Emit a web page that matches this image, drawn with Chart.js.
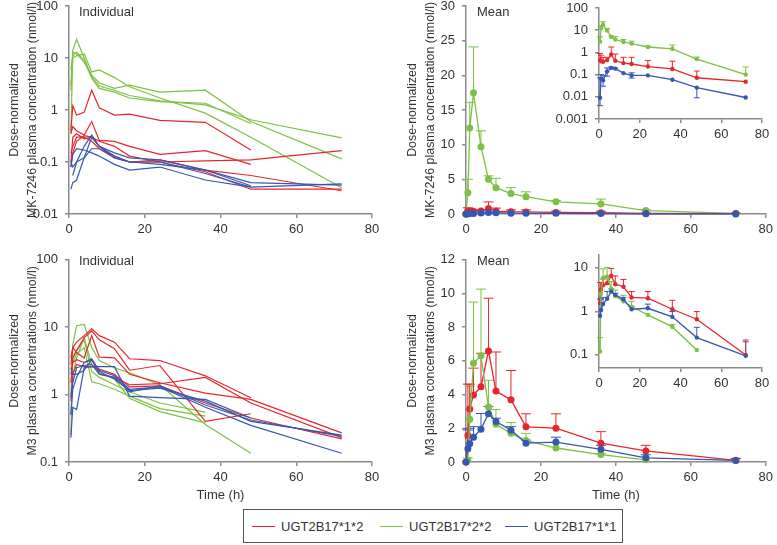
<!DOCTYPE html>
<html><head><meta charset="utf-8">
<script src="https://cdn.jsdelivr.net/npm/chart.js@4"></script>
<style>
body{margin:0;background:#fff;width:777px;height:545px;overflow:hidden;position:relative;font-family:'Liberation Sans',Arial,sans-serif;color:#333;}
canvas{position:absolute;}
.lab{position:absolute;font-size:13px;color:#333;white-space:nowrap;line-height:16px;}
#legend{position:absolute;left:243px;top:509px;width:380px;height:34px;border:1px solid #555;box-sizing:border-box;}
.li{position:absolute;top:0;height:34px;}
.sw{position:absolute;top:16px;width:23px;height:0;border-top:1.5px solid;}
.lt{position:absolute;top:9px;font-size:13px;white-space:nowrap;line-height:16px;}
</style></head><body>
<canvas id="tl" width="395" height="250" style="left:0;top:-10px"></canvas>
<canvas id="tr" width="397" height="250" style="left:380px;top:-10px"></canvas>
<canvas id="tri" width="237" height="150" style="left:540px;top:-10px"></canvas>
<canvas id="bl" width="395" height="260" style="left:0;top:245px"></canvas>
<canvas id="br" width="397" height="260" style="left:380px;top:245px"></canvas>
<canvas id="bri" width="237" height="150" style="left:540px;top:240px"></canvas>
<div class="lab" style="left:79px;top:4px">Individual</div>
<div class="lab" style="left:477px;top:4px">Mean</div>
<div class="lab" style="left:79px;top:253px">Individual</div>
<div class="lab" style="left:477px;top:253px">Mean</div>
<div id="legend"></div>
<script>
// ---------- data ----------
const TIMES = [0, 0.5, 1, 2, 4, 6, 8, 12, 16, 24, 36, 48, 72];
const X_TICKS = [0, 20, 40, 60, 80];
const MK_LOG_TICKS = [0.01, 0.1, 1, 10, 100];
const M3_LOG_TICKS = [0.1, 1, 10, 100];
const MK_LIN_TICKS = [0, 5, 10, 15, 20, 25, 30];
const M3_LIN_TICKS = [0, 2, 4, 6, 8, 10, 12];
const MK_INSET_TICKS = [0.001, 0.01, 0.1, 1, 10, 100];
const M3_INSET_TICKS = [0.1, 1, 10];
const GENOTYPES = ['UGT2B17*1*2', 'UGT2B17*2*2', 'UGT2B17*1*1'];

// Individual MK-7246 (dose-normalized, nmol/l), aligned with TIMES
const mkIndRed = [
  [null, 0.4, 1.2, 0.8, 0.9, 2.4, 1.1, 0.8, 0.83, 0.63, 0.58, 0.17, null],
  [null, 0.35, 0.48, 0.4, 0.33, 0.6, 0.26, 0.25, 0.2, 0.14, 0.165, 0.09, null],
  [null, 0.08, 0.15, 0.25, 0.32, 0.3, 0.25, 0.2, 0.13, 0.1, 0.105, 0.11, 0.166],
  [null, 0.15, 0.2, 0.3, 0.3, 0.25, 0.18, 0.13, 0.1, 0.11, 0.07, 0.055, 0.028],
  [null, 0.1, 0.3, 0.35, 0.28, 0.3, 0.2, 0.12, 0.1, 0.1, 0.065, 0.03, 0.03]
];
const mkIndGreen = [
  [null, 3, 14, 23, 10, 4.3, 2.9, 2.4, 1.9, 1.5, 1.25, 0.65, 0.29],
  [null, 0.35, 13, 12, 8.3, 4.7, 3.3, 2.6, 3.0, 2.2, 2.4, 0.6, 0.115],
  [null, 2.4, 10, 11, 12, 5.4, 5.9, 4.2, 2.8, 1.7, 0.87, 0.3, 0.032],
  [null, 6, 11, 13, 9, 4.1, 2.6, 2.2, 1.7, 1.45, 1.35, 0.55, null]
];
const mkIndBlue = [
  [null, 0.03, 0.04, 0.045, 0.12, 0.18, 0.18, 0.12, 0.1, 0.09, 0.07, 0.035, null],
  [null, null, 0.055, 0.1, 0.2, 0.33, 0.2, 0.13, 0.1, 0.1, 0.06, 0.033, 0.038],
  [null, 0.08, 0.14, 0.18, 0.17, 0.15, 0.13, 0.09, 0.07, 0.08, 0.045, 0.033, null],
  [null, 0.1, 0.08, 0.1, 0.12, 0.3, 0.2, 0.15, 0.12, 0.11, 0.07, 0.04, 0.036]
];
// Individual M3
const m3IndRed = [
  [null, 2.8, 5, 6, 7.5, 9.5, 7.5, 6, 3.4, 3.2, 1.9, 0.9, null],
  [null, 1.5, 3.5, 4.5, 7, 8.8, 6.5, 4.8, 2.3, 2.7, 0.4, 0.52, null],
  [null, 3.5, 5, 4.2, 3.5, 7.5, 3.6, 3.5, 2.0, 1.5, 1.05, 0.85, 0.27],
  [null, 2, 3, 3.3, 3.0, 3.3, 2.0, 1.8, 1.4, 1.45, 1.8, 0.75, 0.23],
  [null, 0.8, 2, 2.8, 2.6, 2.6, 2.4, 2.0, 1.3, 1.35, 0.75, 0.45, 0.22]
];
const m3IndGreen = [
  [null, 0.25, 5.5, 10.5, 11, 5, 3.2, 2.5, 2.1, 1.4, 0.36, 0.135, null],
  [null, 1, 3.5, 4.5, 6.5, 2.2, 1.8, 1.4, 1.1, 0.75, 0.55, null, null],
  [null, 2.5, 3, 4, 5, 1.55, 1.45, 1.2, 0.95, 0.62, 0.48, null, null],
  [null, 0.5, 2, 3.5, 7, 2.8, 2.1, 1.7, 0.88, 0.56, 0.38, null, null]
];
const m3IndBlue = [
  [null, 0.23, 0.65, 0.6, 2.5, 2.6, 2.6, 2.6, 0.95, 0.9, 0.85, 0.45, null],
  [null, 2.5, 2.0, 2.0, 2.3, 3.3, 2.3, 1.9, 1.2, 1.3, 0.65, 0.35, 0.135],
  [null, 0.9, 1.5, 2.5, 2.7, 2.8, 2.0, 1.8, 1.1, 1.35, 0.7, 0.42, 0.24],
  [null, 0.5, 1.2, 1.8, 3.0, 3.4, 2.2, 1.7, 1.15, 1.25, 0.8, 0.4, 0.25]
];
// Means and error-bar ends
const mkMeanRed   = [0, 0.45, 0.4, 0.38, 0.45, 0.8, 0.42, 0.33, 0.3, 0.23, 0.18, 0.072, 0.048];
const mkTopRed    = [null, 0.9, 0.75, 0.6, 0.6, 1.75, 0.85, 0.6, 0.6, 0.43, 0.4, 0.145, null];
const mkMeanGreen = [0, 3.05, 12.4, 17.5, 9.7, 5.0, 3.8, 2.95, 2.5, 1.75, 1.45, 0.5, 0.1];
const mkTopGreen  = [null, 5, 16.1, 24.1, 12, 5.5, 5.15, 3.8, 3.2, 1.95, 2.15, 0.62, 0.22];
const mkMeanBlue  = [0, 0.009, 0.065, 0.055, 0.14, 0.2, 0.185, 0.117, 0.092, 0.092, 0.059, 0.026, 0.0093];
const mkTopBlue   = [null, 0.07, 0.1, 0.09, 0.2, 0.22, 0.2, null, 0.12, null, null, null, null];
const mkLowBlue   = [null, 0.004, null, 0.03, 0.085, null, null, null, 0.07, null, null, 0.009, null];
const m3MeanRed   = [0, 1.57, 3.15, 3.98, 4.46, 6.59, 4.21, 3.69, 2.09, 2.01, 1.12, 0.66, 0.1];
const m3TopRed    = [null, 4.62, 4.62, 5.57, 6.45, 9.72, 6.53, 5.43, 2.86, 2.86, 1.8, 0.99, 0.22];
const m3MeanGreen = [0, 0.12, 2.53, 5.86, 6.3, 3.27, 2.24, 1.7, 1.28, 0.83, 0.44, 0.13, null];
const m3TopGreen  = [null, 0.25, 4.5, 9.49, 10.26, 4.85, 3.11, 2.34, 1.7, null, 0.5, null, null];
const m3MeanBlue  = [0, 0.79, 1.08, 1.47, 1.95, 2.86, 2.4, 1.89, 1.12, 1.18, 0.75, 0.25, 0.095];
const m3TopBlue   = [null, 1.9, 2.0, 2.1, 2.88, 3.3, 2.6, 2.1, 1.3, 1.47, 0.99, 0.43, 0.2];

// ---------- styling ----------
const RED = '#e6262c', GREEN = '#7cc143', BLUE = '#3557b2';
const AX = '#8a8a8a';
Chart.defaults.font.family = "'Liberation Sans', Arial, sans-serif";
Chart.defaults.font.size = 13;
Chart.defaults.color = '#333';

const errorBars = {
  id: 'errorBars',
  beforeDatasetsDraw(chart, args, opts) {
    const ctx = chart.ctx, xs = chart.scales.x, ys = chart.scales.y;
    const cap = opts.cap || 5;
    chart.data.datasets.forEach(ds => {
      if (!ds.errors) return;
      ctx.save();
      ctx.strokeStyle = ds.borderColor;
      ctx.lineWidth = 1;
      ds.data.forEach(p => {
        const px = xs.getPixelForValue(p.x), py = ys.getPixelForValue(p.y);
        [p.hi, p.lo].forEach(e => {
          if (e == null) return;
          const ey = ys.getPixelForValue(e);
          ctx.beginPath();
          ctx.moveTo(px, py); ctx.lineTo(px, ey);
          ctx.moveTo(px - cap, ey); ctx.lineTo(px + cap, ey);
          ctx.stroke();
        });
      });
      ctx.restore();
    });
  }
};

function pts(vals, top, low, isLog) {
  const out = [];
  vals.forEach((v, i) => {
    if (v == null || (isLog && v <= 0)) return;
    out.push({x: TIMES[i], y: v, hi: top ? top[i] : null, lo: low ? low[i] : null});
  });
  return out;
}
function indSets(groups) {
  const ds = [];
  groups.forEach(([arrs, col]) => arrs.forEach(a => ds.push({
    data: pts(a, null, null, true), borderColor: col, borderWidth: 1.2,
    pointRadius: 0, fill: false, tension: 0
  })));
  return ds;
}
function meanSets(groups, isLog, r) {
  return groups.map(([vals, top, low, col]) => ({
    data: pts(vals, top, low, isLog), borderColor: col, backgroundColor: col,
    borderWidth: 1.3, pointRadius: r, pointBackgroundColor: col, pointBorderWidth: 0,
    pointHoverRadius: r, fill: false, tension: 0, clip: false, errors: true
  }));
}
function axBase() {
  return {
    border: {display: true, color: AX, width: 1.5},
    grid: {display: true, drawOnChartArea: false, drawTicks: true, tickLength: 4, color: AX, lineWidth: 1.5},
    ticks: {color: '#333', font: {size: 13}, padding: 6, callback: v => String(v)}
  };
}
function makeChart(id, c) {
  const x = Object.assign(axBase(), {
    type: 'linear', min: 0, max: 80,
    afterBuildTicks: s => { s.ticks = X_TICKS.map(v => ({value: v})); },
    afterFit: s => { s.height = c.xH; },
    title: c.xTitle ? {display: true, text: c.xTitle, color: '#333', font: {size: 13}, padding: {top: 0, bottom: 2}} : {display: false}
  });
  x.ticks.padding = 4;
  const y = Object.assign(axBase(), {
    type: c.yType, min: c.yMin, max: c.yMax,
    afterBuildTicks: s => { s.ticks = c.yTicks.map(v => ({value: v})); },
    afterFit: s => { s.width = c.yW; },
    title: c.yTitle ? {display: true, text: c.yTitle, color: '#333', font: {size: 12.4, lineHeight: '18px'}, padding: {top: c.yTitlePad, bottom: 0}} : {display: false}
  });
  y.ticks.padding = 7;
  return new Chart(document.getElementById(id), {
    type: 'line',
    data: {datasets: c.datasets},
    options: {
      responsive: false, animation: false, devicePixelRatio: 1,
      layout: {padding: c.padding},
      plugins: {legend: {display: false}, tooltip: {enabled: false}, errorBars: {cap: c.cap}},
      scales: {x, y}
    },
    plugins: [errorBars]
  });
}

const MK_TITLE = ['Dose-normalized', 'MK-7246 plasma concentration (nmol/l)'];
const M3_TITLE = ['Dose-normalized', 'M3 plasma concentrations (nmol/l)'];

makeChart('tl', {
  datasets: indSets([[mkIndBlue, BLUE], [mkIndRed, RED], [mkIndGreen, GREEN]]),
  padding: {left: 0, top: 16, right: 23, bottom: 0}, xH: 26, yW: 69,
  yType: 'logarithmic', yMin: 0.01, yMax: 100, yTicks: MK_LOG_TICKS,
  yTitle: MK_TITLE, yTitlePad: 6
});
makeChart('tr', {
  datasets: meanSets([[mkMeanBlue, null, null, BLUE], [mkMeanRed, mkTopRed, null, RED], [mkMeanGreen, mkTopGreen, null, GREEN]], false, 3.5),
  padding: {left: 0, top: 16, right: 9, bottom: 0}, xH: 26, yW: 86, cap: 5,
  yType: 'linear', yMin: 0, yMax: 30, yTicks: MK_LIN_TICKS,
  yTitle: MK_TITLE, yTitlePad: 24
});
makeChart('tri', {
  datasets: meanSets([[mkMeanBlue, mkTopBlue, mkLowBlue, BLUE], [mkMeanRed, mkTopRed, null, RED], [mkMeanGreen, mkTopGreen, null, GREEN]], true, 2.2),
  padding: {left: 0, top: 18, right: 15, bottom: 0}, xH: 21, yW: 59, cap: 3,
  yType: 'logarithmic', yMin: 0.001, yMax: 100, yTicks: MK_INSET_TICKS
});
makeChart('bl', {
  datasets: indSets([[m3IndBlue, BLUE], [m3IndRed, RED], [m3IndGreen, GREEN]]),
  padding: {left: 0, top: 10, right: 23, bottom: 0}, xH: 43, yW: 69,
  yType: 'logarithmic', yMin: 0.1, yMax: 100, yTicks: M3_LOG_TICKS,
  yTitle: M3_TITLE, yTitlePad: 6, xTitle: 'Time (h)'
});
makeChart('br', {
  datasets: meanSets([[m3MeanBlue, m3TopBlue, null, BLUE], [m3MeanGreen, m3TopGreen, null, GREEN], [m3MeanRed, m3TopRed, null, RED]], false, 3.5),
  padding: {left: 0, top: 10, right: 9, bottom: 0}, xH: 43, yW: 86, cap: 5,
  yType: 'linear', yMin: 0, yMax: 12, yTicks: M3_LIN_TICKS,
  yTitle: M3_TITLE, yTitlePad: 24, xTitle: 'Time (h)'
});
makeChart('bri', {
  datasets: meanSets([[m3MeanBlue, m3TopBlue, null, BLUE], [m3MeanGreen, m3TopGreen, null, GREEN], [m3MeanRed, m3TopRed, null, RED]], true, 2.2),
  padding: {left: 0, top: 14, right: 15, bottom: 0}, xH: 22, yW: 59, cap: 3,
  yType: 'logarithmic', yMin: 0.05, yMax: 20, yTicks: M3_INSET_TICKS
});

// legend
const LEG_COLORS = [RED, GREEN, BLUE];
const LEG_X = [8, 136, 261];
const leg = document.getElementById('legend');
GENOTYPES.forEach((g, i) => {
  const it = document.createElement('div');
  it.className = 'li';
  it.style.left = LEG_X[i] + 'px';
  it.innerHTML = '<div class="sw" style="left:0;border-color:' + LEG_COLORS[i] + '"></div><div class="lt" style="left:29px">' + g + '</div>';
  leg.appendChild(it);
});
</script>
</body></html>
